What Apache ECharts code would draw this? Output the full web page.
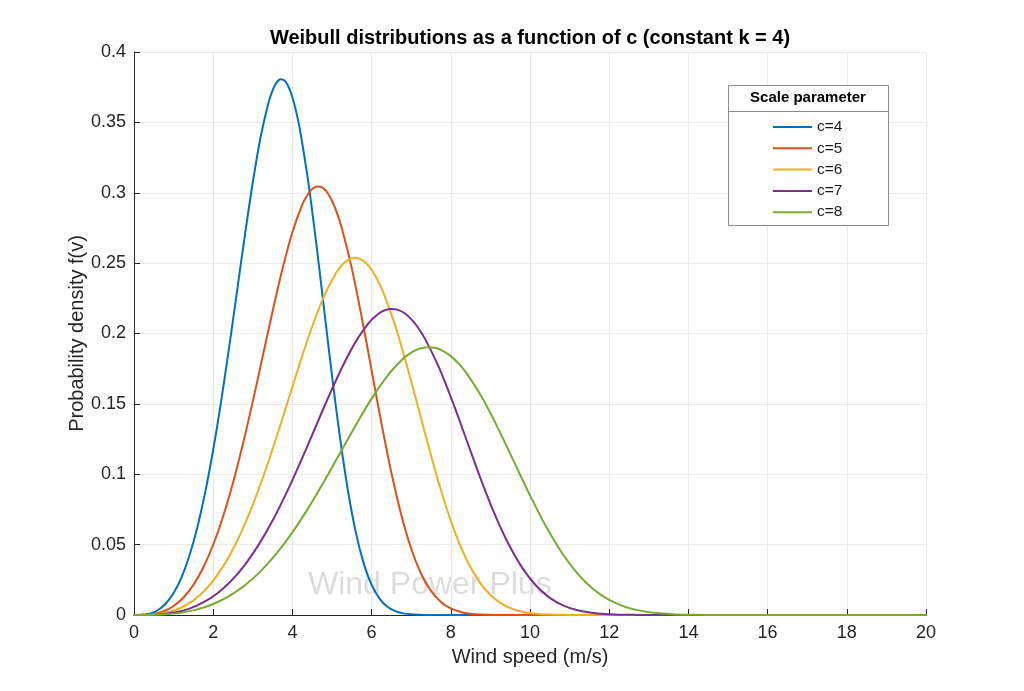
<!DOCTYPE html>
<html>
<head>
<meta charset="utf-8">
<script src="https://cdn.jsdelivr.net/npm/echarts@6/dist/echarts.min.js"></script>
<style>html,body{margin:0;padding:0;background:#fff;}#c{width:1024px;height:691px;}</style>
</head>
<body>
<div id="c"></div>
<script>
// Series names
var seriesNames = ['c=4', 'c=5', 'c=6', 'c=7', 'c=8'];
// Tick labels
var xTicks = [0, 2, 4, 6, 8, 10, 12, 14, 16, 18, 20];
var yTicks = [0, 0.05, 0.1, 0.15, 0.2, 0.25, 0.3, 0.35, 0.4];

// Wind speed samples per curve (m/s)
var x_c4 = [0,0.2,0.4,0.6,0.8,1.0,1.2,1.4,1.6,1.8,2.0,2.2,2.4,2.6,2.8,3.0,3.2,3.4,3.5,3.6,3.7,3.8,3.9,4.0,4.1,4.2,4.4,4.6,4.8,5.0,5.2,5.4,5.6,5.8,6.0,6.2,6.4,6.6,6.8,7.0,7.2,7.4,7.6,7.8,8.0,20];
var x_c5 = [0,0.25,0.5,0.75,1.0,1.25,1.5,1.75,2.0,2.25,2.5,2.75,3.0,3.25,3.5,3.75,4.0,4.25,4.375,4.5,4.625,4.75,4.875,5.0,5.125,5.25,5.5,5.75,6.0,6.25,6.5,6.75,7.0,7.25,7.5,7.75,8.0,8.25,8.5,8.75,9.0,9.25,9.5,9.75,10.0,20];
var x_c6 = [0,0.3,0.6,0.9,1.2,1.5,1.8,2.1,2.4,2.7,3.0,3.3,3.6,3.9,4.2,4.5,4.8,5.1,5.25,5.4,5.55,5.7,5.85,6.0,6.15,6.3,6.6,6.9,7.2,7.5,7.8,8.1,8.4,8.7,9.0,9.3,9.6,9.9,10.2,10.5,10.8,11.1,11.4,11.7,12.0,20];
var x_c7 = [0,0.35,0.7,1.05,1.4,1.75,2.1,2.45,2.8,3.15,3.5,3.85,4.2,4.55,4.9,5.25,5.6,5.95,6.125,6.3,6.475,6.65,6.825,7.0,7.175,7.35,7.7,8.05,8.4,8.75,9.1,9.45,9.8,10.15,10.5,10.85,11.2,11.55,11.9,12.25,12.6,12.95,13.3,13.65,14.0,20];
var x_c8 = [0,0.4,0.8,1.2,1.6,2.0,2.4,2.8,3.2,3.6,4.0,4.4,4.8,5.2,5.6,6.0,6.4,6.8,7.0,7.2,7.4,7.6,7.8,8.0,8.2,8.4,8.8,9.2,9.6,10.0,10.4,10.8,11.2,11.6,12.0,12.4,12.8,13.2,13.6,14.0,14.4,14.8,15.2,15.6,16.0,20];

// Probability density f(v) per curve
var y_c4 = [0,0.000125,0.001000,0.003373,0.007987,0.015564,0.026782,0.042236,0.062382,0.087464,0.117427,0.151826,0.189745,0.229730,0.269783,0.307441,0.339918,0.364378,0.372777,0.378257,0.380611,0.379695,0.375446,0.367879,0.357102,0.343306,0.307842,0.264552,0.217265,0.169996,0.126310,0.088815,0.058884,0.036669,0.021363,0.011594,0.005837,0.002713,0.001159,0.000453,0.000161,0.000052,0.000015,0.000004,0.000001,0];
var y_c5 = [0,0.000100,0.000800,0.002699,0.006390,0.012451,0.021426,0.033789,0.049906,0.069971,0.093942,0.121461,0.151795,0.183784,0.215827,0.245953,0.271940,0.291502,0.298222,0.302606,0.304489,0.303756,0.300357,0.294303,0.285682,0.274645,0.246274,0.211642,0.173812,0.135997,0.101048,0.071052,0.047107,0.029335,0.017090,0.009275,0.004670,0.002170,0.000927,0.000362,0.000129,0.000042,0.000012,0.000003,0.000001,0];
var y_c6 = [0,0.000083,0.000667,0.002249,0.005325,0.010376,0.017855,0.028157,0.041588,0.058309,0.078285,0.101217,0.126497,0.153153,0.179855,0.204961,0.226612,0.242919,0.248518,0.252171,0.253741,0.253130,0.250297,0.245253,0.238068,0.228871,0.205228,0.176368,0.144843,0.113331,0.084207,0.059210,0.039256,0.024446,0.014242,0.007729,0.003891,0.001809,0.000773,0.000302,0.000107,0.000035,0.000010,0.000003,0.000001,0];
var y_c7 = [0,0.000071,0.000571,0.001927,0.004564,0.008894,0.015304,0.024135,0.035647,0.049979,0.067101,0.086758,0.108426,0.131274,0.154162,0.175681,0.194239,0.208216,0.213015,0.216147,0.217492,0.216969,0.214541,0.210217,0.204058,0.196175,0.175910,0.151173,0.124151,0.097141,0.072177,0.050751,0.033648,0.020954,0.012207,0.006625,0.003335,0.001550,0.000662,0.000259,0.000092,0.000030,0.000009,0.000002,0.000001,0];
var y_c8 = [0,0.000063,0.000500,0.001687,0.003994,0.007782,0.013391,0.021118,0.031191,0.043732,0.058714,0.075913,0.094873,0.114865,0.134892,0.153721,0.169959,0.182189,0.186389,0.189124,0.190306,0.189848,0.187723,0.183940,0.178551,0.171653,0.153921,0.132276,0.108633,0.084998,0.063155,0.044408,0.029442,0.018335,0.010682,0.005797,0.002919,0.001357,0.000580,0.000227,0.000081,0.000026,0.000008,0.000002,0.000001,0];

var xs = [x_c4, x_c5, x_c6, x_c7, x_c8];
var ys = [y_c4, y_c5, y_c6, y_c7, y_c8];
var colors = ['#0072BD', '#D95319', '#EDB120', '#7E2F8E', '#77AC30'];

function pairs(a, b) { var r = []; for (var i = 0; i < a.length; i++) r.push([a[i], b[i]]); return r; }

var FONT = '"Liberation Sans", Arial, Helvetica, sans-serif';
var series = seriesNames.map(function (n, i) {
  return {
    name: n, type: 'line', data: pairs(xs[i], ys[i]), smooth: 0.3,
    showSymbol: false, symbol: 'none', z: 3 + i,
    lineStyle: { color: colors[i], width: 2, join: 'round', cap: 'round' }, itemStyle: { color: colors[i] }
  };
});

var chart = echarts.init(document.getElementById('c'), null, { renderer: 'canvas' });
chart.setOption({
  animation: false,
  backgroundColor: '#fff',
  title: {
    text: 'Weibull distributions as a function of c (constant k = 4)',
    left: 525, top: 23, textAlign: 'center',
    textStyle: { fontFamily: FONT, fontSize: 20, fontWeight: 'bold', color: '#000' }
  },
  grid: { left: 134, right: 98, top: 52, bottom: 76, containLabel: false },
  xAxis: {
    type: 'value', min: xTicks[0], max: xTicks[xTicks.length - 1], interval: 2,
    name: 'Wind speed (m/s)', nameLocation: 'middle', nameGap: 32,
    nameTextStyle: { fontFamily: FONT, fontSize: 20, color: '#262626' },
    axisLine: { show: true, onZero: false, lineStyle: { color: '#262626', width: 1 } },
    axisTick: { show: true, inside: true, length: 6, lineStyle: { color: '#262626' } },
    axisLabel: { fontFamily: FONT, fontSize: 18, color: '#262626', margin: 9 },
    splitLine: { show: true, lineStyle: { color: '#ebebeb', width: 1 } }
  },
  yAxis: {
    type: 'value', min: yTicks[0], max: yTicks[yTicks.length - 1], interval: 0.05,
    name: 'Probability density f(v)', nameLocation: 'middle', nameGap: 47, nameMoveOverlap: false,
    nameTextStyle: { fontFamily: FONT, fontSize: 20, color: '#262626' },
    axisLine: { show: true, lineStyle: { color: '#262626', width: 1 } },
    axisTick: { show: true, inside: true, length: 6, lineStyle: { color: '#262626' } },
    axisLabel: { fontFamily: FONT, fontSize: 18, color: '#262626', margin: 8 },
    splitLine: { show: true, lineStyle: { color: '#ebebeb', width: 1 } }
  },
  legend: {
    data: seriesNames, orient: 'vertical', left: 773, top: 119, z: 100, padding: 0,
    itemWidth: 39, itemHeight: 2, itemGap: 5.3, icon: 'rect',
    textStyle: { fontFamily: FONT, fontSize: 15.5, color: '#1a1a1a', lineHeight: 15 }
  },
  graphic: [
    { type: 'text', left: 308, top: 569, z: 0,
      style: { text: 'Wind Power Plus', fontFamily: FONT, fontSize: 32, fill: 'rgba(0,0,0,0.14)' } },
    { type: 'rect', shape: { x: 728.5, y: 85.5, width: 160, height: 140 }, z: 50,
      style: { fill: '#fff', stroke: '#8c8c8c', lineWidth: 1 } },
    { type: 'line', shape: { x1: 728.5, y1: 111.5, x2: 888.5, y2: 111.5 }, z: 51,
      style: { stroke: '#8c8c8c', lineWidth: 1 } },
    { type: 'text', x: 808, y: 98, z: 51,
      style: { text: 'Scale parameter', fontFamily: FONT, fontSize: 15, fontWeight: 'bold', fill: '#000', textAlign: 'center', textVerticalAlign: 'middle' } }
  ],
  series: series
});
</script>
</body>
</html>
